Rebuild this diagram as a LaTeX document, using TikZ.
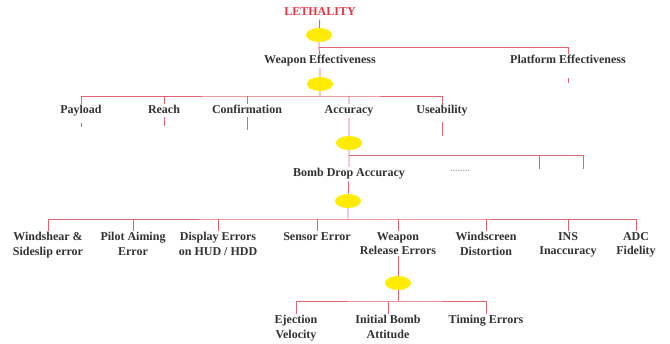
\documentclass[tikz,border=0pt]{standalone}
\usepackage{fontspec}
\setmainfont{Liberation Serif}
\usetikzlibrary{shapes.geometric,backgrounds}
\definecolor{linkred}{RGB}{226,100,112}
\definecolor{titlered}{RGB}{232,52,64}
\definecolor{knotyellow}{RGB}{255,236,0}
\definecolor{termgrey}{RGB}{50,50,50}
\tikzset{
  term/.style={font=\bfseries\fontsize{12}{14.5}\selectfont, text=termgrey,
    fill=white, inner sep=1pt, align=center},
  word/.style={term, text height=8.5pt, text depth=2.5pt},
  knot/.style={ellipse, fill=knotyellow, minimum width=26pt,
    minimum height=14pt, inner sep=0pt},
  link/.style={draw=linkred, line width=0.9pt},
}
\begin{document}
\begin{tikzpicture}[x=1pt,y=-1pt]
  \useasboundingbox (0,0) rectangle (670,344);
  % top
  \node[word, text=titlered] (lethality) at (320,13) {LETHALITY};
  \node[knot] (k1) at (319,35) {};
  \coordinate (b1) at (319,47);
  \node[word] (weapon) at (320,61) {Weapon Effectiveness};
  \node[word] (platform) at (568,61) {Platform Effectiveness};
  \node[knot] (k2) at (320,84) {};
  \coordinate (b2) at (320,96);
  % second level
  \node[word] (payload) at (81,111) {Payload};
  \node[word] (reach) at (164,111) {Reach};
  \node[word] (confirm) at (247,111) {Confirmation};
  \node[word] (accuracy) at (349,111) {Accuracy};
  \node[word] (useability) at (442,111) {Useability};
  \node[knot] (k3) at (349,143) {};
  \coordinate (b3) at (349,155);
  \node[word] (bombdrop) at (349,174) {Bomb Drop Accuracy};
  \node[font=\bfseries\fontsize{10}{12}\selectfont, text=gray!60] (more) at (460,171) {........};
  \coordinate (s1) at (539,169);
  \coordinate (s2) at (583,169);
  \node[knot] (k4) at (348,201) {};
  \coordinate (b4) at (348,219);
  % error sources
  \node[term, anchor=north] (windshear) at (48,231) {Windshear \&\\Sideslip error};
  \node[term, anchor=north] (aiming) at (133,231) {Pilot Aiming\\Error};
  \node[term, anchor=north] (display) at (218,231) {Display Errors\\on HUD / HDD};
  \node[term, anchor=north] (sensor) at (317,231) {Sensor Error};
  \node[term, anchor=north] (release) at (398,231) {Weapon\\Release Errors};
  \node[term, anchor=north] (windscreen) at (486,231) {Windscreen\\Distortion};
  \node[term, anchor=north] (ins) at (568,231) {INS\\Inaccuracy};
  \node[term, anchor=north] (adc) at (636,231) {ADC\\Fidelity};
  \node[knot] (k5) at (398,283) {};
  \coordinate (b5) at (398,301);
  \node[term, anchor=north] (ejection) at (296,314) {Ejection\\Velocity};
  \node[term, anchor=north] (initial) at (388,314) {Initial Bomb\\Attitude};
  \node[term, anchor=north] (timing) at (486,314) {Timing Errors};
  % connectors
  \begin{scope}[on background layer]
    \draw[link] (lethality) -- (k1) -- (b1) -- (weapon) -- (k2) -- (b2);
    \draw[link] (b1) -| (platform);
    \draw[link] (platform.south) ++(0,10) -- ++(0,5);
    \draw[link] (payload.north) |- (b2) -| (useability.north);
    \draw[link] (payload.south) ++(0,5) -- ++(0,4);
    \draw[link] (useability.south) ++(0,4) -- ++(0,14);
    \draw[link] (reach |- b2) -- ++(0,30);
    \draw[link] (confirm |- b2) -- ++(0,34);
    \draw[link] (accuracy |- b2) -- (accuracy) -- (k3) -- (b3) -- (bombdrop) -- (k4) -- (b4);
    \draw[link] (b3) -| (s2);
    \draw[link] (s1 |- b3) -- (s1);
    \draw[link] (windshear.north) |- (b4) -| (adc.north);
    \foreach \n in {aiming,display,sensor,release,windscreen,ins}
      \draw[link] (\n.north) -- (\n.north |- b4);
    \draw[link] (release) -- (k5) -- (b5);
    \draw[link] (ejection.north) |- (b5) -| (timing.north);
    \draw[link] (initial.north) -- (initial.north |- b5);
  \end{scope}
\end{tikzpicture}
\end{document}
